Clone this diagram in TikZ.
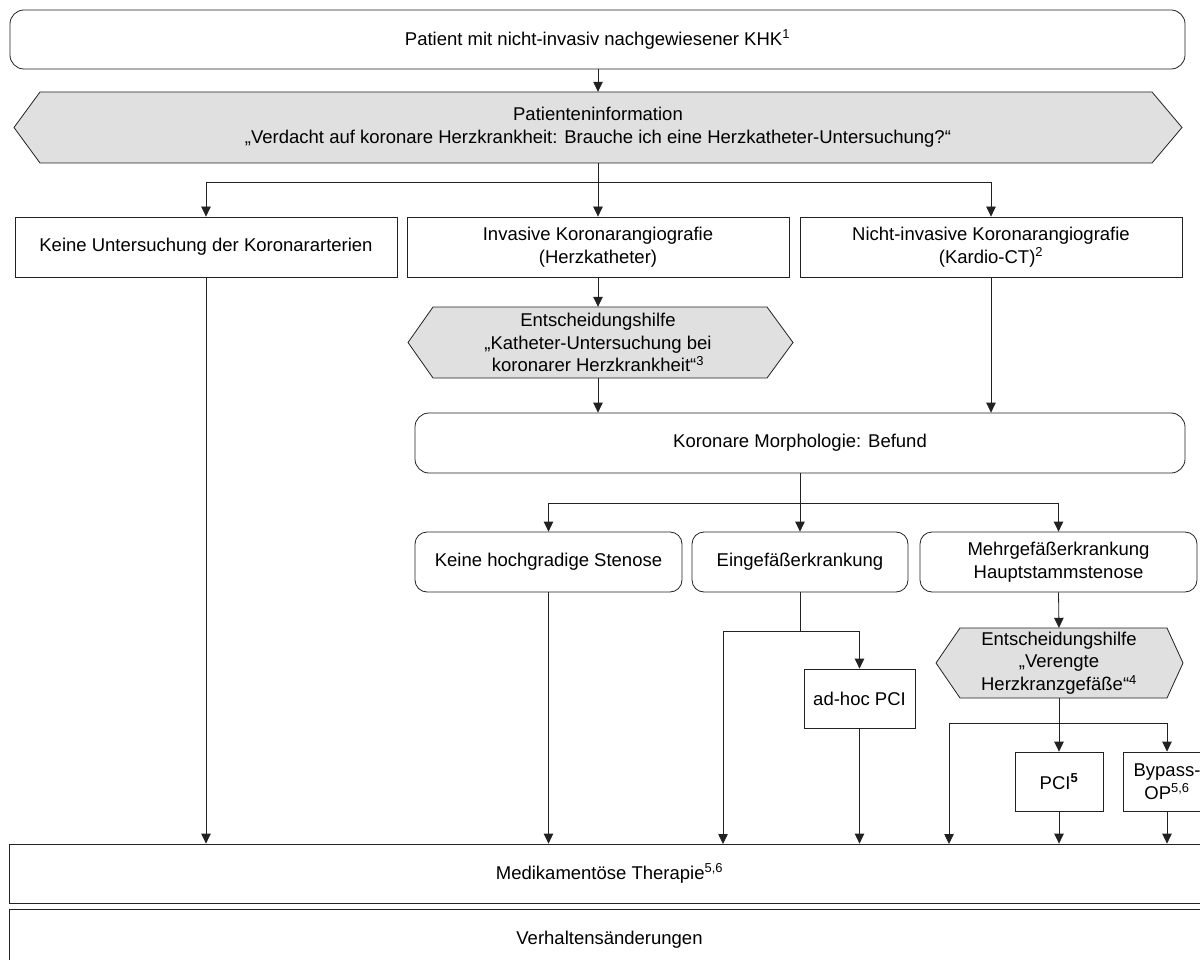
\documentclass[tikz,border=0pt]{standalone}
\usepackage{fontspec}
\setmainfont{Liberation Sans}
\usetikzlibrary{arrows.meta}
\definecolor{hexgray}{HTML}{E0E0E0}
\definecolor{linecol}{HTML}{222222}
\tikzset{
  box/.style={draw=linecol, line width=0.8pt, rectangle, inner sep=0pt, align=center},
  rbox/.style={box, rounded corners=14pt},
  hexnode/.style={rectangle, inner sep=0pt, align=center},
  hexshape/.style={draw=linecol, fill=hexgray, line width=0.8pt},
  arr/.style={draw=linecol, line width=0.8pt, -{Triangle[length=10pt,width=9.5pt]}},
  link/.style={draw=linecol, line width=0.8pt},
}
\begin{document}
\begin{tikzpicture}[x=1pt, y=-1pt, font=\fontsize{18.5}{22.5}\selectfont]
\useasboundingbox (0,0) rectangle (1200,960);
\clip (0,0) rectangle (1200,960);
\fill[white] (0,0) rectangle (1200,960);

% hexagon outlines
\path[hexshape] (14,127.5) -- (40,92) -- (1152,92) -- (1182,127.5) -- (1152,163) -- (40,163) -- cycle;
\path[hexshape] (408,342.5) -- (433,307) -- (767,307) -- (793,342.5) -- (767,378) -- (433,378) -- cycle;
\path[hexshape] (936,663) -- (960,628) -- (1167,628) -- (1183,663) -- (1167,698) -- (960,698) -- cycle;

% nodes
\node[rbox, minimum width=1175pt, minimum height=59pt] (top) at (597.5,39.5) {Patient mit nicht-invasiv nachgewiesener KHK\textsuperscript{1}};
\node[hexnode, minimum width=1100pt, minimum height=71pt] (hex1) at (598,127.5) {\raisebox{-1.5pt}{\begin{tabular}{@{}c@{}}Patienteninformation\\„Verdacht auf koronare Herzkrankheit: Brauche ich eine Herzkatheter-Untersuchung?“\end{tabular}}};

\node[box, minimum width=382pt, minimum height=60pt] (box1) at (206,247) {Keine Untersuchung der Koronararterien};
\node[box, minimum width=382pt, minimum height=60pt] (box2) at (598,247) {Invasive Koronarangiografie\\(Herzkatheter)};
\node[box, minimum width=382pt, minimum height=60pt] (box3) at (991,247) {Nicht-invasive Koronarangiografie\\(Kardio-CT)\textsuperscript{2}};

\node[hexnode, minimum width=330pt, minimum height=71pt] (hex2) at (598,342.5) {Entscheidungshilfe\\„Katheter-Untersuchung bei\\koronarer Herzkrankheit“\textsuperscript{3}};

\node[rbox, minimum width=770pt, minimum height=60pt] (kor) at (800,443) {Koronare Morphologie: Befund};

\node[rbox, rounded corners=12pt, minimum width=267pt, minimum height=60pt] (ra) at (548.5,562) {Keine hochgradige Stenose};
\node[rbox, rounded corners=12pt, minimum width=216pt, minimum height=60pt] (rb) at (800,562) {Eingefäßerkrankung};
\node[rbox, rounded corners=12pt, minimum width=277pt, minimum height=60pt] (rc) at (1058.5,562) {Mehrgefäßerkrankung\\Hauptstammstenose};

\node[box, minimum width=111pt, minimum height=59pt] (adhoc) at (859.5,698.5) {ad-hoc PCI};
\node[hexnode, minimum width=200pt, minimum height=70pt] (hex3) at (1059,663) {Entscheidungshilfe\\„Verengte\\Herzkranzgefäße“\textsuperscript{4}};

\node[box, minimum width=88pt, minimum height=59pt] (pci) at (1059,781.5) {PCI\textsuperscript{\textbf{5}}};
\node[box, minimum width=88pt, minimum height=59pt] (bypass) at (1167,781.5) {Bypass-\\OP\textsuperscript{5,6}};

\node[box, minimum width=1201pt, minimum height=59pt] (med) at (609.5,873.5) {Medikamentöse Therapie\textsuperscript{5,6}};
\node[box, minimum width=1201pt, minimum height=62pt] (verh) at (609.5,940) {Verhaltensänderungen};

% free end points on the top of the medication box
\coordinate (m1) at (723,844);
\coordinate (m2) at (949,844);

% connectors
\draw[arr] (top.south -| hex1.north) -- (hex1.north);
\draw[arr] (hex1.south) -- (box2.north);
\draw[arr] (hex1.south) -- ++(0,19) -| (box1.north);
\draw[arr] (hex1.south) -- ++(0,19) -| (box3.north);

\draw[arr] (box2.south) -- (hex2.north);
\draw[arr] (hex2.south) -- (hex2.south |- kor.north);
\draw[arr] (box3.south) -- (box3.south |- kor.north);
\draw[arr] (box1.south) -- (box1.south |- med.north);

\draw[arr] (kor.south) -- (rb.north);
\draw[arr] (kor.south) -- ++(0,30) -| (ra.north);
\draw[arr] (kor.south) -- ++(0,30) -| (rc.north);

\draw[arr] (ra.south) -- (ra.south |- med.north);

\draw[link] (rb.south) -- ++(0,39) coordinate (bsplit);
\draw[arr] (bsplit) -| (adhoc.north);
\draw[arr] (bsplit) -| (m1);
\draw[arr] (adhoc.south) -- (adhoc.south |- med.north);

\draw[arr] (rc.south) -- (hex3.north);
\draw[link] (hex3.south) -- ++(0,25) coordinate (csplit);
\draw[arr] (csplit) -- (pci.north);
\draw[arr] (csplit) -| (bypass.north);
\draw[arr] (csplit) -| (m2);
\draw[arr] (pci.south) -- (pci.south |- med.north);
\draw[arr] (bypass.south) -- (bypass.south |- med.north);
\end{tikzpicture}
\end{document}
